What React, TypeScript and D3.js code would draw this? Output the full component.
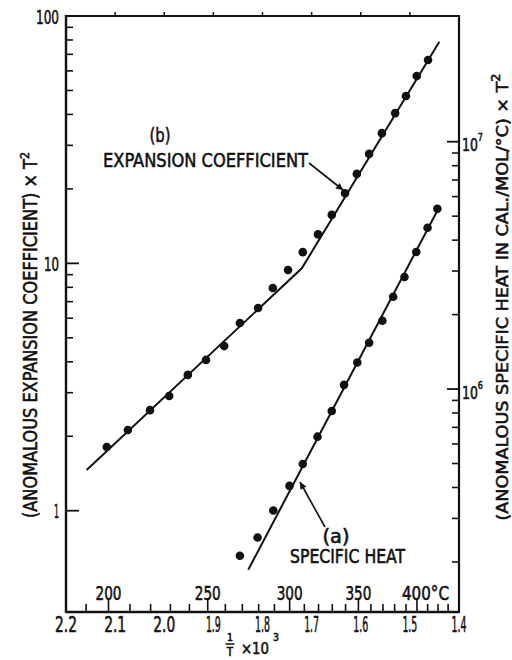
import React from 'react';
import * as d3 from 'd3';

// ---- data ----
const expansionInvT = [2.117, 2.074, 2.029, 1.990, 1.952, 1.915, 1.878, 1.846, 1.809, 1.779, 1.748, 1.718, 1.687, 1.659, 1.632, 1.608, 1.583, 1.557, 1.530, 1.508, 1.486, 1.463];
const expansionValue = [1.81, 2.12, 2.55, 2.91, 3.54, 4.07, 4.63, 5.74, 6.60, 7.95, 9.40, 11.1, 13.1, 15.7, 19.2, 23.0, 27.7, 33.6, 40.5, 47.5, 57.2, 66.4];
const expansionFitInvT = [2.158, 1.720, 1.440];
const expansionFitValue = [1.46, 9.55, 78.7];

const specificInvT = [1.846, 1.810, 1.778, 1.745, 1.718, 1.688, 1.659, 1.634, 1.607, 1.583, 1.556, 1.534, 1.511, 1.487, 1.464, 1.444];
const specificValue = [2.12e5, 2.51e5, 3.23e5, 4.06e5, 4.98e5, 6.42e5, 8.15e5, 1.04e6, 1.28e6, 1.54e6, 1.89e6, 2.36e6, 2.84e6, 3.58e6, 4.49e6, 5.36e6];
const specificFitInvT = [1.829, 1.439];
const specificFitValue = [1.86e5, 5.5e6];

const invTTicks = [2.2, 2.1, 2.0, 1.9, 1.8, 1.7, 1.6, 1.5, 1.4];
const invTTickLabels = ['2.2', '2.1', '2.0', '1.9', '1.8', '1.7', '1.6', '1.5', '1.4'];
const topTicks = [2.1, 2.0, 1.9, 1.8, 1.7, 1.6, 1.5];
const tempMajor = [200, 250, 300, 350, 400];
const tempMajorLabels = ['200', '250', '300', '350', '400°C'];
const leftMajor = [1, 10, 100];
const leftMajorLabels = ['1', '10', '100'];
const rightMajor = [1e6, 1e7];
const rightMajorExp = ['6', '7'];

const FONT = "'DejaVu Sans Condensed', 'DejaVu Sans', sans-serif";
const INK = '#111';
const TXT = { fill: INK, stroke: INK, strokeWidth: 0.55 } as const;

export default function App() {
  const L = 66, R = 459, T = 16, B = 612;
  const x = d3.scaleLinear().domain([2.2, 1.4]).range([L, R]);
  const yL = d3.scaleLog().domain([0.3895, 100]).range([B, T]);
  const yR = d3.scaleLog().domain([1.2552e5, 3.2226e7]).range([B, T]);
  const tempX = (c: number) => x(1000 / (c + 273.15));

  const leftMinor = d3.range(2, 10).concat(d3.range(20, 100, 10));
  const rightMinor = d3.range(2, 10).map(k => k * 1e5).concat(d3.range(2, 10).map(k => k * 1e6));
  const tempTicks = d3.range(190, 431, 10);

  const lineL = d3.line<number>().x((_, i) => x(expansionFitInvT[i])).y((_, i) => yL(expansionFitValue[i]));
  const lineR = d3.line<number>().x((_, i) => x(specificFitInvT[i])).y((_, i) => yR(specificFitValue[i]));

  const leftLabelLen: Record<string, number> = { '1': 5, '10': 15, '100': 23 };

  return (
    <svg width={512} height={660} style={{ position: 'absolute', left: 0, top: 0, background: '#fff' }} fontFamily={FONT}>
      <defs>
        <marker id="ah" viewBox="0 0 10 10" refX="10" refY="5" markerWidth="10" markerHeight="7" markerUnits="userSpaceOnUse" orient="auto">
          <path d="M0,0 L10,5 L0,10 Z" fill={INK} />
        </marker>
      </defs>
      <rect x={0} y={0} width={512} height={660} fill="#fff" />

      {/* frame */}
      <line x1={L} y1={T} x2={R} y2={T} stroke={INK} strokeWidth={1.8} />
      <line x1={L} y1={B} x2={R} y2={B} stroke={INK} strokeWidth={2.4} />
      <line x1={L} y1={T - 1} x2={L} y2={B + 1} stroke={INK} strokeWidth={2.4} />
      <line x1={R} y1={T - 1} x2={R} y2={B + 1} stroke={INK} strokeWidth={2.2} />

      {/* left ticks */}
      {leftMajor.map(v => (
        <line key={'lm' + v} x1={L} x2={L + 13} y1={yL(v)} y2={yL(v)} stroke={INK} strokeWidth={1.8} />
      ))}
      {leftMinor.map(v => (
        <line key={'ln' + v} x1={L} x2={L + 7} y1={yL(v)} y2={yL(v)} stroke={INK} strokeWidth={1.6} />
      ))}
      {leftMajor.map((v, i) => (
        <text key={'ll' + v} x={59} y={yL(v) + 7.5} fontSize={20} textAnchor="end" {...TXT}
          textLength={leftLabelLen[leftMajorLabels[i]]} lengthAdjust="spacingAndGlyphs">{leftMajorLabels[i]}</text>
      ))}

      {/* right ticks */}
      {rightMajor.map(v => (
        <line key={'rm' + v} x1={R - 12} x2={R} y1={yR(v)} y2={yR(v)} stroke={INK} strokeWidth={1.8} />
      ))}
      {rightMinor.map(v => (
        <line key={'rn' + v} x1={R - 7} x2={R} y1={yR(v)} y2={yR(v)} stroke={INK} strokeWidth={1.6} />
      ))}
      {rightMajor.map((v, i) => (
        <text key={'rl' + v} x={462} y={yR(v) + (i === 0 ? 10 : 9)} fontSize={17} {...TXT}
          textLength={21} lengthAdjust="spacingAndGlyphs">
          10<tspan fontSize={11} dy={-10}>{rightMajorExp[i]}</tspan>
        </text>
      ))}

      {/* top ticks */}
      {topTicks.map(v => (
        <line key={'tt' + v} x1={x(v)} x2={x(v)} y1={T} y2={T - 4} stroke={INK} strokeWidth={1.5} />
      ))}

      {/* bottom temperature ticks */}
      {tempTicks.map(c => (
        <line key={'bt' + c} x1={tempX(c)} x2={tempX(c)} y1={B} y2={B - (c % 50 === 0 ? 13 : 8)} stroke={INK} strokeWidth={1.6} />
      ))}
      {tempMajor.map((c, i) => (
        i < tempMajor.length - 1 ? (
          <text key={'tl' + c} x={tempX(c)} y={600} fontSize={20} textAnchor="middle" {...TXT}
            textLength={26} lengthAdjust="spacingAndGlyphs">{tempMajorLabels[i]}</text>
        ) : (
          <text key={'tl' + c} x={tempX(c) - 15} y={600} fontSize={20} {...TXT}
            textLength={47} lengthAdjust="spacingAndGlyphs">{tempMajorLabels[i]}</text>
        )
      ))}

      {/* bottom 1/T labels */}
      {invTTicks.map((v, i) => (
        <text key={'bl' + v} x={x(v)} y={632} fontSize={21} textAnchor="middle" {...TXT}
          textLength={i <= 2 ? 22 : 15} lengthAdjust="spacingAndGlyphs">{invTTickLabels[i]}</text>
      ))}

      {/* bottom axis title: 1/T x 10^3 */}
      <text x={230} y={641} fontSize={10.5} textAnchor="middle" {...TXT}>1</text>
      <line x1={225.5} x2={234.5} y1={644} y2={644} stroke={INK} strokeWidth={1.5} />
      <text x={230} y={656} fontSize={11.5} textAnchor="middle" {...TXT}>T</text>
      <text x={241} y={654} fontSize={16} {...TXT} textLength={28} lengthAdjust="spacingAndGlyphs">×10</text>
      <text x={273} y={641} fontSize={11} {...TXT} textLength={6} lengthAdjust="spacingAndGlyphs">3</text>

      {/* left axis title */}
      <text transform="translate(37,335) rotate(-90)" fontSize={19} textAnchor="middle" {...TXT}
        textLength={366} lengthAdjust="spacingAndGlyphs">
        (ANOMALOUS EXPANSION COEFFICIENT) × T<tspan fontSize={13} dy={-8}>2</tspan>
      </text>

      {/* right axis title */}
      <text transform="translate(508,297) rotate(-90)" fontSize={16.5} textAnchor="middle" {...TXT}
        textLength={447} lengthAdjust="spacingAndGlyphs">
        (ANOMALOUS SPECIFIC HEAT IN CAL./MOL/°C) × T<tspan fontSize={12} dy={-8}>2</tspan>
      </text>

      {/* fit lines */}
      <path d={lineL(expansionFitInvT) || ''} fill="none" stroke={INK} strokeWidth={2} />
      <path d={lineR(specificFitInvT) || ''} fill="none" stroke={INK} strokeWidth={2} />

      {/* points */}
      {expansionInvT.map((v, i) => (
        <circle key={'ep' + i} cx={x(v)} cy={yL(expansionValue[i])} r={4.3} fill={INK} />
      ))}
      {specificInvT.map((v, i) => (
        <circle key={'sp' + i} cx={x(v)} cy={yR(specificValue[i])} r={4.3} fill={INK} />
      ))}

      {/* annotations */}
      <text x={160} y={142} fontSize={20} textAnchor="middle" {...TXT} textLength={21} lengthAdjust="spacingAndGlyphs">(b)</text>
      <text x={103} y={167} fontSize={20} {...TXT} textLength={205} lengthAdjust="spacingAndGlyphs">EXPANSION COEFFICIENT</text>
      <line x1={309} y1={163} x2={343} y2={190} stroke={INK} strokeWidth={1.6} markerEnd="url(#ah)" />

      <text x={336} y={543} fontSize={20} textAnchor="middle" {...TXT} textLength={27} lengthAdjust="spacingAndGlyphs">(a)</text>
      <text x={290} y={563} fontSize={19} {...TXT} textLength={115} lengthAdjust="spacingAndGlyphs">SPECIFIC HEAT</text>
      <line x1={325} y1={527} x2={300} y2={482} stroke={INK} strokeWidth={1.6} markerEnd="url(#ah)" />
    </svg>
  );
}
